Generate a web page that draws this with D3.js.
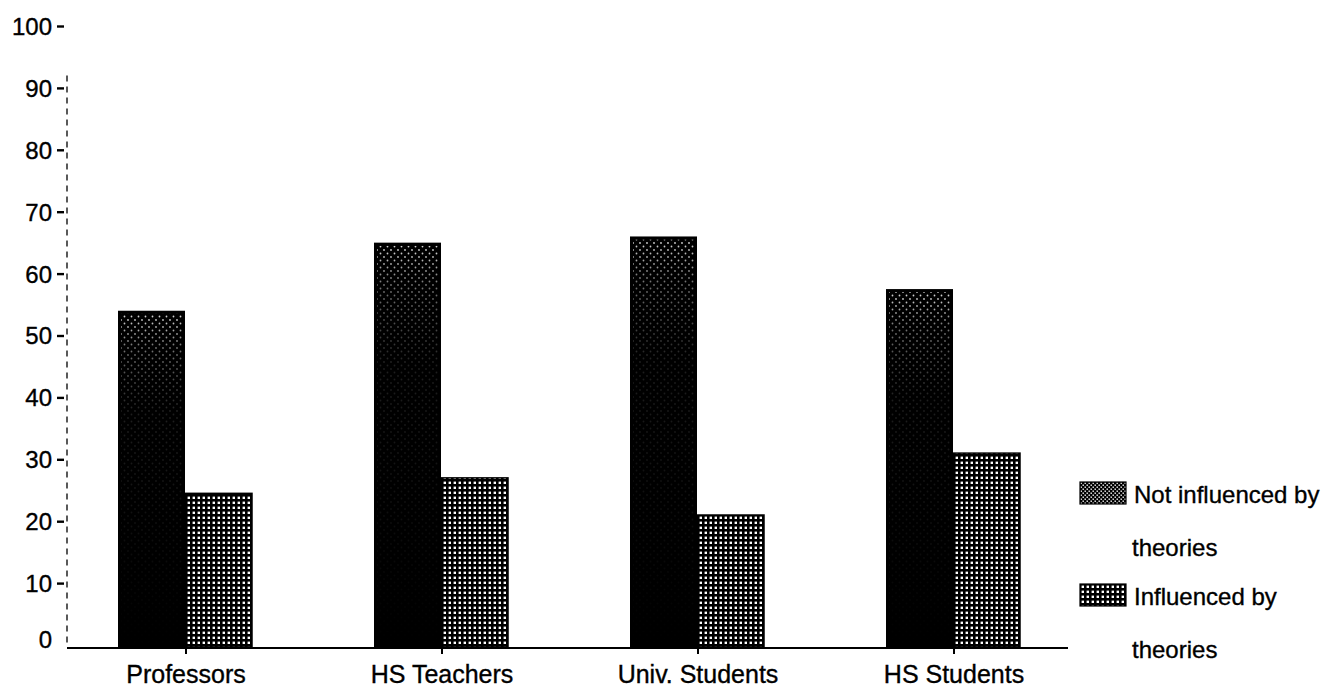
<!DOCTYPE html>
<html>
<head>
<meta charset="utf-8">
<script src="https://cdn.jsdelivr.net/npm/d3@7"></script>
<style>
  html, body { margin: 0; padding: 0; background: #fff; }
  svg { display: block; }
  text { font-family: "Liberation Sans", Arial, sans-serif; fill: #000; stroke: #000; stroke-width: 0.35px; }
</style>
</head>
<body>
<svg id="chart" width="1340" height="692"></svg>
<script>
// Share of respondents (%) per group
const categories = ["Professors", "HS Teachers", "Univ. Students", "HS Students"];
const seriesNames = ["Not influenced by theories", "Influenced by theories"];
const notInfluenced = [54, 65, 66, 57.5];
const influenced = [24.5, 27, 21, 31];
const yTicks = [0, 10, 20, 30, 40, 50, 60, 70, 80, 90, 100];
const legendLines = [["Not influenced by", "theories"], ["Influenced by", "theories"]];

const svg = d3.select("#chart");
const defs = svg.append("defs");

// sparse halftone dots for the lighter top of the dark bars
const ht = defs.append("pattern").attr("id", "halftone")
  .attr("patternUnits", "userSpaceOnUse").attr("width", 7).attr("height", 7);
ht.append("circle").attr("cx", 1.5).attr("cy", 1.5).attr("r", 0.9).attr("fill", "#fff");
ht.append("circle").attr("cx", 5).attr("cy", 5).attr("r", 0.9).attr("fill", "#fff");

// fade mask so the halftone shows only near the bar tops
const grad = defs.append("linearGradient").attr("id", "fadeGrad")
  .attr("x1", 0).attr("y1", 0).attr("x2", 0).attr("y2", 1);
grad.append("stop").attr("offset", "0").attr("stop-color", "#fff").attr("stop-opacity", 0.85);
grad.append("stop").attr("offset", "0.1").attr("stop-color", "#fff").attr("stop-opacity", 0.45);
grad.append("stop").attr("offset", "0.3").attr("stop-color", "#fff").attr("stop-opacity", 0.12);
grad.append("stop").attr("offset", "1").attr("stop-color", "#fff").attr("stop-opacity", 0.0);
const mask = defs.append("mask").attr("id", "fadeMask")
  .attr("maskContentUnits", "objectBoundingBox");
mask.append("rect").attr("width", 1).attr("height", 1).attr("fill", "url(#fadeGrad)");

// grid screen for the "influenced" bars
const grid = defs.append("pattern").attr("id", "gridFill")
  .attr("patternUnits", "userSpaceOnUse").attr("width", 5).attr("height", 5);
grid.append("rect").attr("width", 5).attr("height", 5).attr("fill", "#000");
grid.append("rect").attr("x", 1.6).attr("y", 1.6).attr("width", 2.4).attr("height", 2.4).attr("fill", "#fff");

// checker halftone for the dark legend swatch
const chk = defs.append("pattern").attr("id", "checkFill")
  .attr("patternUnits", "userSpaceOnUse").attr("width", 4).attr("height", 4);
chk.append("rect").attr("width", 4).attr("height", 4).attr("fill", "#000");
chk.append("rect").attr("x", 0.5).attr("y", 0.5).attr("width", 1.4).attr("height", 1.4).attr("fill", "#fff");
chk.append("rect").attr("x", 2.5).attr("y", 2.5).attr("width", 1.4).attr("height", 1.4).attr("fill", "#fff");

// scales
const y = d3.scaleLinear().domain([0, 100]).range([645, 26]);
const x = d3.scaleBand().domain(categories).range([58, 1082]);
const xs = d3.scaleBand().domain(seriesNames).range([-68, 66]);
const baseY = 647;

// y axis: dashed spine with short ticks and labels
svg.append("line")
  .attr("x1", 67).attr("x2", 67).attr("y1", y(92)).attr("y2", baseY)
  .attr("stroke", "#000").attr("stroke-width", 1.3).attr("stroke-dasharray", "6,5");

const yAxis = d3.axisLeft(y).tickValues(yTicks).tickSize(7).tickPadding(5);
const gy = svg.append("g").attr("transform", "translate(64,0)").call(yAxis);
gy.select(".domain").remove();
gy.selectAll(".tick line").attr("stroke", "#000").attr("stroke-width", 2.4);
gy.selectAll(".tick text").style("font-size", "24px").attr("dy", "0.35em");
gy.selectAll(".tick").filter(d => d === 0).select("text").attr("dy", "0.1em");
gy.selectAll(".tick").filter(d => d === 0).select("line").remove();

// bars
const groups = svg.append("g").selectAll("g").data(categories).join("g")
  .attr("transform", d => `translate(${x(d) + x.bandwidth() / 2},0)`);

groups.append("rect")
  .attr("x", xs(seriesNames[0])).attr("width", xs.bandwidth())
  .attr("y", (d, i) => y(notInfluenced[i]))
  .attr("height", (d, i) => baseY - y(notInfluenced[i]))
  .attr("fill", "#000");
groups.append("rect")
  .attr("x", xs(seriesNames[0]) + 3).attr("width", xs.bandwidth() - 6)
  .attr("y", (d, i) => y(notInfluenced[i]) + 3)
  .attr("height", (d, i) => baseY - y(notInfluenced[i]) - 3)
  .attr("fill", "url(#halftone)").attr("mask", "url(#fadeMask)");

groups.append("rect")
  .attr("x", xs(seriesNames[1])).attr("width", xs.bandwidth())
  .attr("y", (d, i) => y(influenced[i]))
  .attr("height", (d, i) => baseY - y(influenced[i]))
  .attr("fill", "url(#gridFill)").attr("stroke", "#000").attr("stroke-width", 1.5);

// x axis baseline with center ticks and category labels
svg.append("line").attr("x1", 67).attr("x2", 1068).attr("y1", baseY + 1).attr("y2", baseY + 1)
  .attr("stroke", "#000").attr("stroke-width", 2);
const xAxis = d3.axisBottom(x).tickSize(6).tickPadding(12);
const gx = svg.append("g").attr("transform", `translate(0,${baseY + 1})`).call(xAxis);
gx.select(".domain").remove();
gx.selectAll(".tick line").attr("stroke", "#000").attr("stroke-width", 2);
gx.selectAll(".tick text").style("font-size", "25px").attr("dy", "0.68em");

// legend
const legendFills = ["url(#checkFill)", "url(#gridFill)"];
const legendTop = [482, 584];
const lg = svg.append("g").selectAll("g").data(seriesNames).join("g")
  .attr("transform", (d, i) => `translate(1080,${legendTop[i]})`);
lg.append("rect").attr("width", 46).attr("height", 22)
  .attr("fill", (d, i) => legendFills[i]).attr("stroke", "#000").attr("stroke-width", 1.2);
lg.append("text").attr("x", 54).attr("y", 21).style("font-size", "24px")
  .text((d, i) => legendLines[i][0]);
lg.append("text").attr("x", 52).attr("y", 74).style("font-size", "24px")
  .text((d, i) => legendLines[i][1]);
</script>
</body>
</html>
